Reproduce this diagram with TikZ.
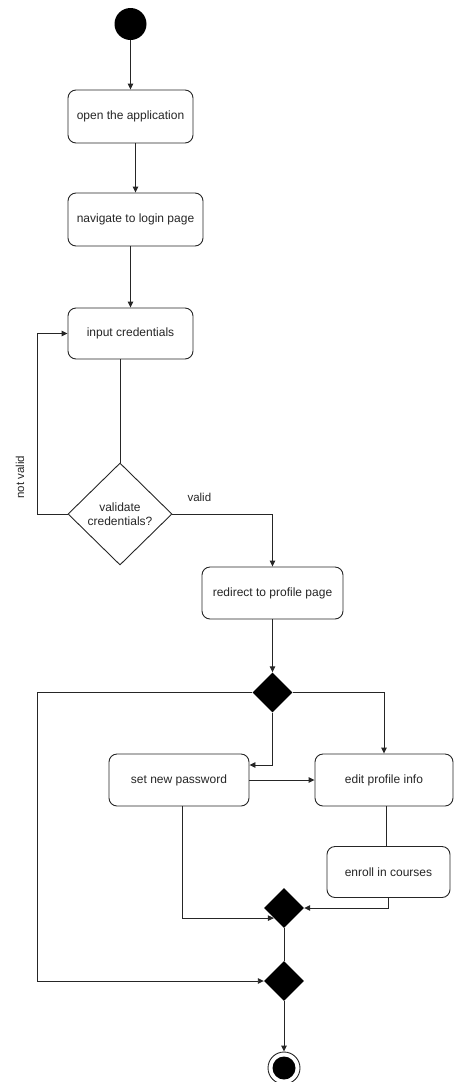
\documentclass[tikz,border=0pt]{standalone}
\usepackage{fontspec}
\setmainfont{Liberation Sans}
\usetikzlibrary{shapes.geometric,arrows.meta,calc}
\begin{document}
\begin{tikzpicture}[x=1pt,y=-1pt,
  every node/.style={font=\fontsize{12}{14}\selectfont, text=black!85},
  act/.style={draw=black!85, line width=0.9pt, rounded corners=8pt, inner sep=0pt, fill=white},
  cond/.style={draw=black!85, line width=0.9pt, diamond, inner sep=0pt, align=center},
  bar/.style={diamond, fill=black, inner sep=0pt, minimum width=40pt, minimum height=40pt},
  flow/.style={draw=black!85, line width=0.9pt, -{Triangle[length=6pt,width=5.5pt]}},
  wire/.style={draw=black!85, line width=0.9pt},
  lbl/.style={font=\fontsize{11.5}{13}\selectfont}
]
\useasboundingbox (0,0) rectangle (455,1082);

% initial node
\node[circle, fill=black, minimum size=32pt, inner sep=0pt] (start) at (130.5,24) {};

% activities
\node[act, minimum width=125pt, minimum height=53pt] (open) at (130.5,116.5) {open the application};
\node[act, minimum width=135pt, minimum height=53pt] (nav) at (135.5,219.5) {navigate to login page};
\node[act, minimum width=125pt, minimum height=51pt] (cred) at (130.5,333.5) {input credentials};
\node[cond, minimum width=104pt, minimum height=102pt] (check) at (120,514) {validate\\credentials?};
\node[act, minimum width=141pt, minimum height=52pt] (profile) at (272.5,593) {redirect to profile page};

\node[bar] (fork) at (272.5,692.5) {};
\node[act, minimum width=140pt, minimum height=52pt] (pass) at (179,780) {set new password};
\node[act, minimum width=138pt, minimum height=52pt] (edit) at (384,780) {edit profile info};
\node[act, minimum width=123pt, minimum height=51pt] (enroll) at (388.5,872) {enroll in courses};
\node[bar] (join) at (284,908) {};
\node[bar] (merge) at (284,981) {};

% final node
\node[circle, draw=black!85, line width=0.9pt, minimum size=32pt, inner sep=0pt] (final) at (284,1068) {};
\node[circle, fill=black, minimum size=23pt, inner sep=0pt] (finaldot) at (final.center) {};

% corner points of the loops on the left
\coordinate (retry) at (37,514);
\coordinate (back) at (37,692.5);

% main flow
\draw[flow] (start) -- (open);
\draw[flow] (nav.north |- open.south) -- (nav.north);
\draw[flow] (cred.north |- nav.south) -- (cred.north);
\draw[wire] (check.north |- cred.south) -- (check.north);
\draw[flow] (check.west) -- (retry) |- (cred.west);
\node[lbl, rotate=90] (nvlabel) at (20,477) {not valid};
\draw[flow] (check.east) -| (profile.north);
\node[lbl, anchor=west] (vlabel) at (184,497) {valid};
\draw[flow] (profile) -- (fork);

% branches
\draw[flow] (fork.east) -| (edit.north);
\draw[flow] (fork.south) |- ($(pass.east)+(0,-15)$);
\draw[flow] (pass.east) -- (edit.west);
\draw[wire] (edit.south -| 386,0) -- (enroll.north -| 386,0);
\draw[flow] (enroll.south) |- (join.east);
\draw[flow] (pass.south -| 182,0) |- (join.south west);
\draw[wire] (join.south) -- (merge.north);
\draw[flow] (fork.west) -- (back) |- (merge.west);
\draw[flow] (merge.south) -- (final.north);
\end{tikzpicture}
\end{document}
